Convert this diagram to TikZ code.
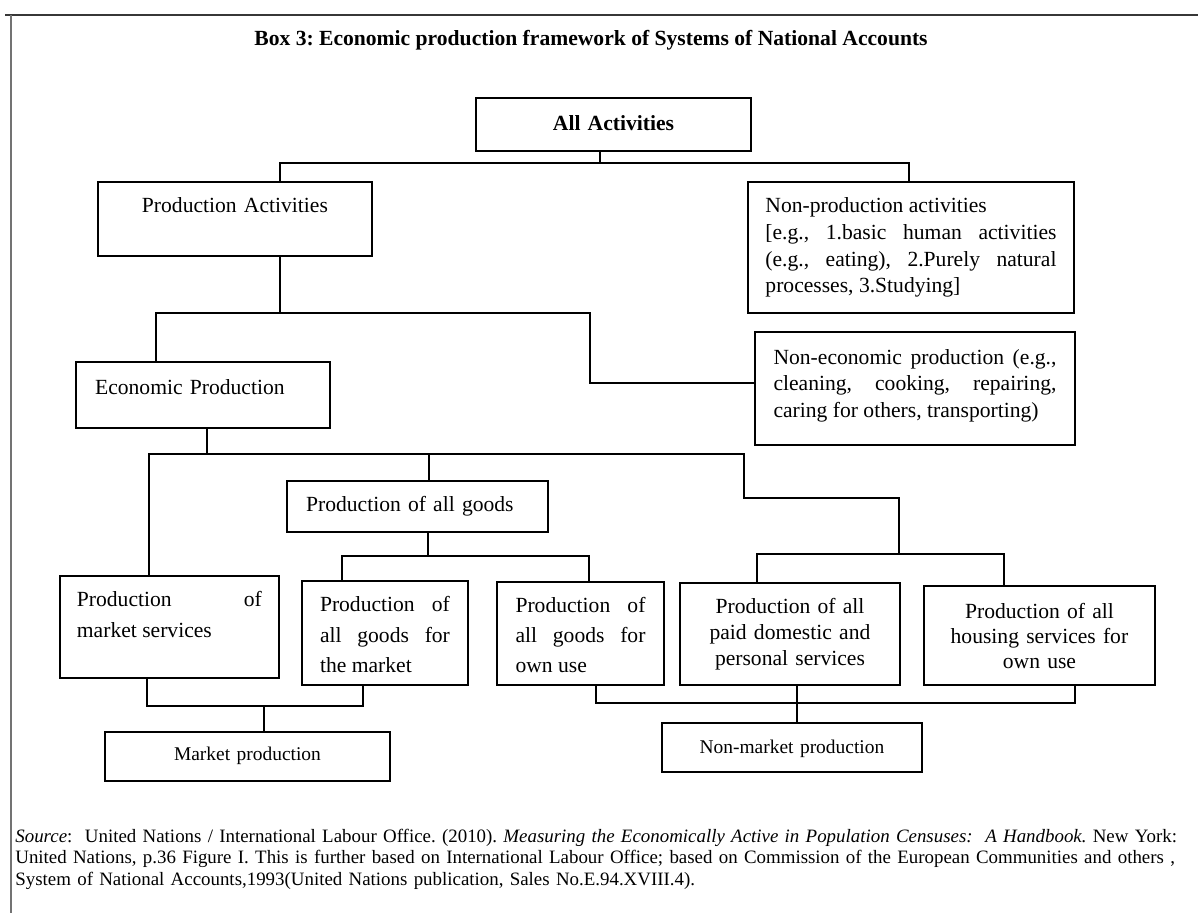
\documentclass[tikz,border=0pt]{standalone}
\usepackage{fontspec}
\setmainfont{Liberation Serif}
\usepackage{tikz}
\usetikzlibrary{calc}
\definecolor{framedark}{RGB}{55,55,55}
\definecolor{framegrey}{RGB}{115,115,115}
\tikzset{
  box/.style={rectangle, draw=black, line width=1pt, inner ysep=0pt,
    outer sep=0pt, anchor=north west, font=\fontsize{12}{14.8}\selectfont},
  tallbox/.style={box, font=\fontsize{12}{16.7}\selectfont},
  smallbox/.style={box, font=\fontsize{10.8}{13}\selectfont},
  conn/.style={line width=1.3pt, color=black},
  frameline/.style={line width=1.1pt}
}
\AtBeginDocument{\frenchspacing\tolerance=9999\hbadness=10000}

\begin{document}
\begin{tikzpicture}[x=0.5556pt, y=-0.5556pt]
  \useasboundingbox (0,0) rectangle (1198,913);

  % frame and heading
  \draw[frameline, framedark] (5,15) -- (1198,15);
  \draw[frameline, framegrey] (11,15) -- (11,913);
  \node[anchor=base, font=\bfseries\fontsize{12}{14}\selectfont] (title) at (591,45)
    {Box 3: Economic production framework of Systems of National Accounts};

  % top level
  \node[box, text width=152.8pt, inner xsep=0pt, text height=17.8pt, text depth=11.7pt,
    align=center, font=\bfseries\fontsize{12}{14.8}\selectfont] (aa) at (476,98) {All Activities};
  \node[box, text width=152.2pt, inner xsep=0pt, text height=17.2pt, text depth=23.9pt,
    align=center] (pa) at (98,182) {Production Activities};
  \node[box, text width=161.7pt, inner xsep=9.7pt, text height=17.2pt, text depth=55.6pt,
    align=justify] (np) at (748,182)
    {Non-production activities\\\relax [e.g., 1.basic human activities\linebreak
     (e.g., eating), 2.Purely natural\linebreak processes, 3.Studying]};

  % production side
  \node[box, text width=120pt, inner xsep=10.6pt, text height=17.8pt, text depth=18.9pt,
    align=left] (ep) at (76,362) {Economic Production};
  \node[box, text width=157.2pt, inner xsep=10.3pt, text height=17.8pt, text depth=45pt,
    align=justify] (ne) at (755,332)
    {Non-economic production (e.g.,\linebreak cleaning, cooking, repairing,\linebreak
     caring for others, transporting)};

  % economic production breakdown
  \node[box, text width=123.9pt, inner xsep=10.6pt, text height=17.2pt, text depth=11.1pt,
    align=left] (pg) at (287,481) {Production of all goods};
  \node[tallbox, text width=102.8pt, inner xsep=9.4pt, text height=17.2pt, text depth=39.4pt,
    align=justify] (ms) at (60,576) {Production of\linebreak market services};
  \node[tallbox, text width=72.2pt, inner xsep=10pt, text height=17.2pt, text depth=40.6pt,
    align=justify] (gm) at (302,581) {Production of\linebreak all goods for\linebreak the market};
  \node[tallbox, text width=72.2pt, inner xsep=10.3pt, text height=16.7pt, text depth=40.6pt,
    align=justify] (gu) at (497,582) {Production of\linebreak all goods for\linebreak own use};
  \node[box, text width=122.2pt, inner xsep=0pt, text height=16.7pt, text depth=40pt,
    align=center, font=\fontsize{12}{14.7}\selectfont] (pd) at (680,583)
    {Production of all\\paid domestic and\\personal services};
  \node[box, text width=128.3pt, inner xsep=0pt, text height=17.8pt, text depth=37.2pt,
    align=center, font=\fontsize{12}{14}\selectfont] (hs) at (924,586)
    {Production of all\\housing services for\\own use};

  % market / non-market
  \node[smallbox, text width=158.3pt, inner xsep=0pt, text height=16.1pt, text depth=11.1pt,
    align=center] (mp) at (105,732) {Market production};
  \node[smallbox, text width=144.4pt, inner xsep=0pt, text height=16.7pt, text depth=10.6pt,
    align=center] (nm) at (662,723) {Non-market production};

  % connectors: all activities
  \coordinate (t1) at (600,163);
  \coordinate (b1l) at (280,163);
  \coordinate (b1r) at (909,163);
  \draw[conn] (t1 |- aa.south) -- (t1);
  \draw[conn] (b1l |- pa.north) -- (b1l) -- (b1r) -- (b1r |- np.north);

  % connectors: production activities
  \coordinate (b2l) at (156,313);
  \coordinate (b2r) at (590,313);
  \draw[conn] (b1l |- pa.south) -- (b1l |- b2l);
  \draw[conn] (b2l |- ep.north) -- (b2l) -- (b2r) |- ($(ne.north west)+(0,51)$);

  % connectors: economic production
  \coordinate (t3) at (207,454);
  \coordinate (b3l) at (149,454);
  \coordinate (b3m) at (429,454);
  \coordinate (b3r) at (744,454);
  \coordinate (b4) at (899,554);
  \coordinate (b4l) at (757,554);
  \coordinate (b4r) at (1004,554);
  \draw[conn] (t3 |- ep.south) -- (t3);
  \draw[conn] (b3l |- ms.north) -- (b3l) -- (b3r) -- ++(0,44) -| (b4);
  \draw[conn] (b3m) -- (b3m |- pg.north);
  \draw[conn] (b4l |- pd.north) -- (b4l) -- (b4r) -- (b4r |- hs.north);

  % connectors: all goods
  \coordinate (t5) at (428,556);
  \coordinate (b5l) at (342,556);
  \coordinate (b5r) at (589,556);
  \draw[conn] (t5 |- pg.south) -- (t5);
  \draw[conn] (b5l |- gm.north) -- (b5l) -- (b5r) -- (b5r |- gu.north);

  % connectors: market and non-market
  \coordinate (m1) at (147,706);
  \coordinate (m2) at (363,706);
  \coordinate (m3) at (264,706);
  \draw[conn] (m1 |- ms.south) -- (m1) -- (m2) -- (m2 |- gm.south);
  \draw[conn] (m3) -- (m3 |- mp.north);
  \coordinate (n1) at (596,703);
  \coordinate (n2) at (1075,703);
  \coordinate (n3) at (797,703);
  \draw[conn] (n1 |- gu.south) -- (n1) -- (n2) -- (n2 |- hs.south);
  \draw[conn] (n3 |- pd.south) -- (n3 |- nm.north);

  % source note
  \node[anchor=base west, text width=690pt, inner sep=0pt, align=left,
    font=\fontsize{10.5}{12.2}\selectfont] (src) at (15,842)
    {\textit{Source}:\ \ United Nations / International Labour Office. (2010). \textit{Measuring the Economically Active in Population Censuses:\ \ A Handbook.} New York:\\
     United Nations, p.36 Figure I. This is further based on International Labour Office; based on Commission of the European Communities and others ,\\
     System of National Accounts,1993(United Nations publication, Sales No.E.94.XVIII.4).};
\end{tikzpicture}
\end{document}
